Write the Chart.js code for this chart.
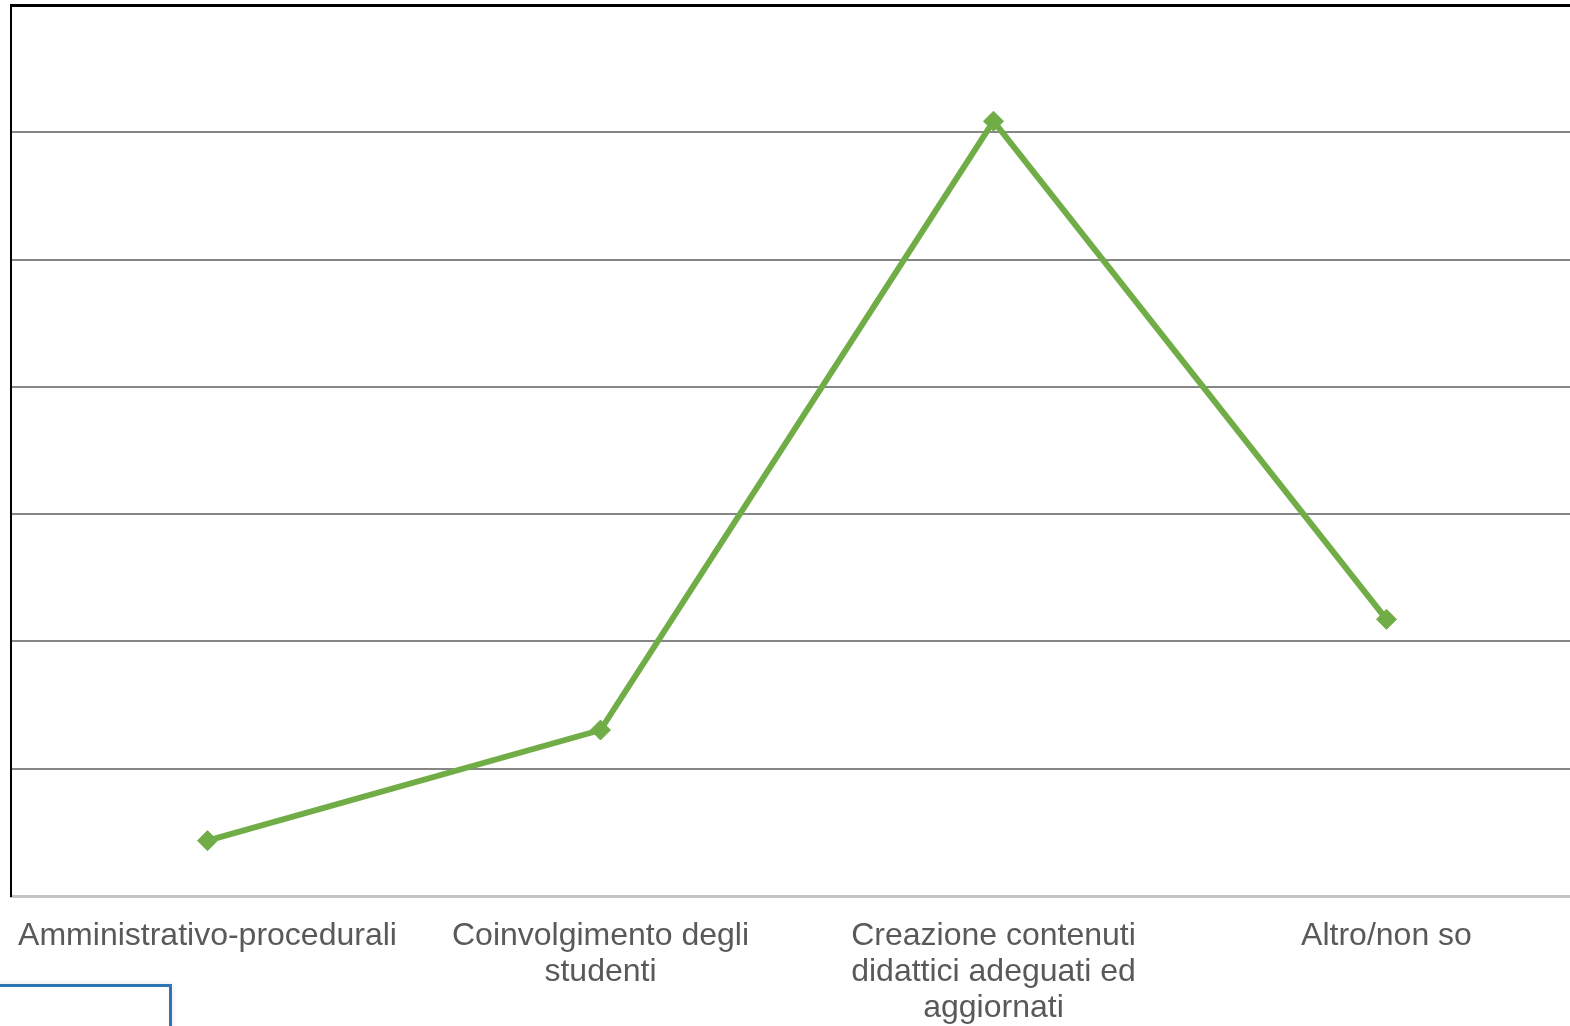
<!DOCTYPE html>
<html>
<head>
<meta charset="utf-8">
<script src="https://cdn.jsdelivr.net/npm/chart.js@4"></script>
<style>
  html, body { margin: 0; padding: 0; background: #ffffff; overflow: hidden; width: 1570px; height: 1026px; }
  #chart { position: absolute; left: 0; top: 0; }
  #frame {
    position: absolute; left: -6px; top: 984px; width: 178px; height: 70px;
    border: 3px solid #2e75b6; box-sizing: border-box;
    box-shadow: 0 0 6px rgba(0,0,0,0.10);
  }
</style>
</head>
<body>
<canvas id="chart" width="1590" height="1026"></canvas>
<div id="frame"></div>
<script>
// Categories (multi-line labels are arrays of lines)
const categories = [
  'Amministrativo-procedurali',
  ['Coinvolgimento degli', 'studenti'],
  ['Creazione contenuti', 'didattici adeguati ed', 'aggiornati'],
  'Altro/non so'
];
// Share of answers per category (%)
const shares = [4.35, 13.04, 60.87, 21.74];
// Value axis range
const yMin = 0;
const yMax = 70;
const yStep = 10;

// Keep the plot area fixed: no extra room reserved for overhanging labels
const noScalePadding = (s) => {
  s.paddingLeft = 0; s.paddingRight = 0; s.paddingTop = 0; s.paddingBottom = 0;
};

new Chart(document.getElementById('chart'), {
  type: 'line',
  data: {
    labels: categories,
    datasets: [{
      data: shares,
      borderColor: '#70ad47',
      backgroundColor: '#70ad47',
      borderWidth: 6,
      tension: 0,
      pointStyle: 'rectRot',
      pointRadius: 10,
      pointHoverRadius: 10,
      pointBorderWidth: 1,
      pointBackgroundColor: '#70ad47',
      pointBorderColor: '#70ad47'
    }]
  },
  options: {
    responsive: false,
    animation: false,
    layout: { autoPadding: false, padding: { left: 11, top: 5, right: 7, bottom: 0 } },
    plugins: { legend: { display: false }, tooltip: { enabled: false } },
    scales: {
      x: {
        offset: true,
        grid: { display: false, drawTicks: false },
        border: { display: true, color: '#c4c4c4', width: 3 },
        ticks: {
          color: '#595959',
          padding: 22,
          maxRotation: 0,
          autoSkip: false,
          font: { family: '"Liberation Sans", Arial, sans-serif', size: 32, lineHeight: 1.125 }
        },
        afterFit: (s) => { s.height = 130; noScalePadding(s); }
      },
      y: {
        min: yMin,
        max: yMax,
        ticks: { display: false, stepSize: yStep },
        grid: {
          drawTicks: false,
          color: (c) => c.tick.value === yMax ? '#000000' : (c.tick.value === yMin ? 'rgba(0,0,0,0)' : '#868686'),
          lineWidth: (c) => c.tick.value === yMax ? 3 : 2
        },
        border: { display: true, color: '#000000', width: 2 },
        afterFit: (s) => { s.width = 0; noScalePadding(s); }
      }
    }
  }
});
</script>
</body>
</html>
